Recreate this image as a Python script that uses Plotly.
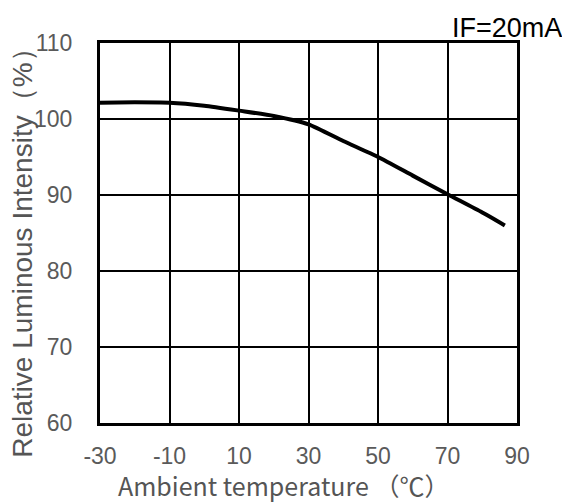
import plotly.graph_objects as go

# curve
temp = [-30, -20, -10, 0, 10, 20, 30, 40, 50, 60, 70, 80, 86.5]
lum = [102.15, 102.2, 102.15, 101.75, 101.1, 100.4, 99.3, 97.1, 95.0, 92.55, 90.1, 87.7, 86.0]

x_ticks = [-30, -10, 10, 30, 50, 70, 90]
y_ticks = [60, 70, 80, 90, 100, 110]

fig = go.Figure()
fig.add_trace(go.Scatter(
    x=temp, y=lum, mode="lines",
    line=dict(color="black", width=4, shape="spline", smoothing=0.6),
    showlegend=False, hoverinfo="skip"
))

tick_font = dict(family="Arial, Liberation Sans", size=23, color="#5a5a5a")

fig.update_xaxes(
    range=[-30, 90], tickvals=x_ticks, ticktext=[str(v) for v in x_ticks],
    showgrid=True, gridcolor="black", gridwidth=2,
    showline=True, linecolor="black", linewidth=3, mirror=True,
    zeroline=False, ticks="outside", ticklen=10, tickcolor="rgba(0,0,0,0)",
    tickfont=tick_font, automargin=False,
)
fig.update_yaxes(
    range=[60, 110], tickvals=y_ticks, ticktext=[str(v) for v in y_ticks],
    showgrid=True, gridcolor="black", gridwidth=2,
    showline=True, linecolor="black", linewidth=3, mirror=True,
    zeroline=False, ticks="outside", ticklen=20, tickcolor="rgba(0,0,0,0)",
    tickfont=tick_font, automargin=False,
)

# axis titles as annotations so they sit where the reference has them
fig.add_annotation(
    text="Relative Luminous Intensity（%）",
    textangle=-90,
    xref="paper", yref="paper", x=-0.186, y=0.465,
    xanchor="center", yanchor="middle", showarrow=False,
    font=dict(family="Arial, Liberation Sans", size=28, color="#555")
)
fig.add_annotation(
    text="Ambient temperature （℃）",
    xref="paper", yref="paper", x=0.439, y=-0.163,
    xanchor="center", yanchor="middle", showarrow=False,
    font=dict(family="Noto Sans CJK SC", size=25, color="#555")
)
fig.add_annotation(
    text="IF=20mA", xref="paper", yref="paper", x=1.112, y=0.995,
    xanchor="right", yanchor="bottom", showarrow=False,
    font=dict(family="Arial, Liberation Sans", size=27, color="black")
)

# page has an 8px body margin, so the figure is a bit smaller than the window
fig.update_layout(
    width=562, height=494,
    margin=dict(l=92, r=53, t=35, b=79),
    plot_bgcolor="white", paper_bgcolor="white",
)

fig.write_html("out.html")
